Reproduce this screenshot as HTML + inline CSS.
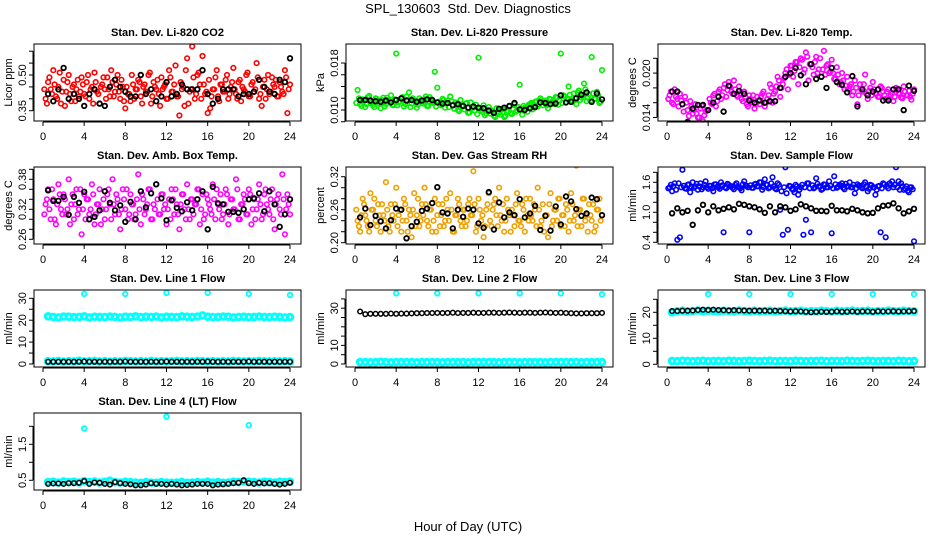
<!DOCTYPE html>
<html><head><meta charset="utf-8"><title>SPL_130603 Std. Dev. Diagnostics</title>
<style>
html,body{margin:0;padding:0;background:#fff;}
svg{display:block;font-family:"Liberation Sans",Arial,sans-serif;}
</style></head>
<body>
<svg id="chart" width="936" height="540" viewBox="0 0 936 540">
<rect x="0" y="0" width="936" height="540" fill="#fff"/>
<text x="468" y="13" text-anchor="middle" font-size="13" style="white-space:pre">SPL_130603  Std. Dev. Diagnostics</text>
<text x="468" y="531" text-anchor="middle" font-size="13">Hour of Day (UTC)</text>
</svg>
<script>
const xTicks = [0,4,8,12,16,20,24];

const co2Red = [0.40,0.47,0.44,0.52,0.41,0.45,0.38,0.48,0.43,0.50,0.39,0.46,0.44,0.41,0.49,0.42,
0.47,0.40,0.45,0.51,0.43,0.38,0.46,0.44,0.49,0.41,0.47,0.43,0.50,0.40,0.45,0.36,
0.42,0.39,0.46,0.44,0.48,0.41,0.45,0.43,0.50,0.38,0.47,0.44,0.42,0.49,0.45,0.40,
0.52,0.43,0.46,0.41,0.33,0.44,0.37,0.57,0.43,0.62,0.40,0.50,0.46,0.58,0.42,0.34,
0.36,0.44,0.49,0.41,0.46,0.43,0.48,0.40,0.45,0.53,0.42,0.47,0.39,0.44,0.50,0.41,
0.46,0.43,0.55,0.40,0.37,0.48,0.44,0.42,0.49,0.45,0.41,0.47,0.43,0.52,0.34,0.46];
const co2RedB = [0.44,0.38,0.49,0.42,0.46,0.40,0.51,0.43,0.37,0.47,0.42,0.45,0.39,0.48,0.43,0.46,
0.41,0.50,0.44,0.38,0.47,0.42,0.45,0.49,0.40,0.44,0.52,0.41,0.46,0.43,0.48,0.39,
0.45,0.42,0.50,0.40,0.44,0.47,0.38,0.46,0.43,0.51,0.41,0.45,0.48,0.37,0.44,0.46,
0.40,0.49,0.43,0.54,0.41,0.47,0.45,0.52,0.38,0.44,0.49,0.42,0.51,0.40,0.46,0.43,
0.48,0.41,0.44,0.52,0.39,0.46,0.43,0.50,0.42,0.47,0.44,0.40,0.48,0.45,0.43,0.51,
0.41,0.47,0.44,0.49,0.42,0.45,0.40,0.50,0.43,0.46,0.48,0.41,0.45,0.42,0.49,0.44];
const co2Black = [0.42,0.39,0.44,0.53,0.40,0.42,0.40,0.37,0.42,0.44,0.38,0.37,0.45,0.48,0.45,0.43,
0.41,0.41,0.50,0.42,0.44,0.39,0.41,0.47,0.41,0.42,0.46,0.44,0.44,0.44,0.52,0.42,
0.38,0.40,0.44,0.44,0.44,0.41,0.42,0.42,0.43,0.48,0.45,0.43,0.42,0.48,0.47,0.57];

const presGreen = [0.0134,0.0110,0.0118,0.0105,0.0122,0.0112,0.0108,0.0120,0.0115,0.0103,0.0121,0.0110,0.0117,0.0125,0.0108,0.0196,
0.0113,0.0119,0.0106,0.0123,0.0130,0.0111,0.0116,0.0104,0.0120,0.0112,0.0118,0.0107,0.0122,0.0114,0.0165,0.0138,
0.0110,0.0119,0.0104,0.0116,0.0123,0.0108,0.0113,0.0100,0.0117,0.0106,0.0111,0.0095,0.0113,0.0104,0.0109,0.0189,
0.0100,0.0108,0.0094,0.0105,0.0098,0.0090,0.0103,0.0095,0.0101,0.0088,0.0097,0.0106,0.0093,0.0110,0.0099,0.0143,
0.0092,0.0104,0.0097,0.0110,0.0101,0.0114,0.0106,0.0120,0.0108,0.0116,0.0103,0.0118,0.0111,0.0122,0.0109,0.0196,
0.0125,0.0113,0.0140,0.0117,0.0128,0.0110,0.0133,0.0121,0.0145,0.0115,0.0127,0.0190,0.0119,0.0131,0.0112,0.0168];
const presGreenB = [0.0112,0.0120,0.0107,0.0116,0.0110,0.0124,0.0113,0.0105,0.0119,0.0111,0.0117,0.0106,0.0121,0.0114,0.0109,0.0118,
0.0108,0.0115,0.0122,0.0110,0.0117,0.0105,0.0120,0.0113,0.0109,0.0116,0.0111,0.0123,0.0107,0.0118,0.0112,0.0106,
0.0114,0.0108,0.0117,0.0111,0.0105,0.0115,0.0102,0.0110,0.0098,0.0107,0.0101,0.0112,0.0096,0.0104,0.0099,0.0093,
0.0103,0.0097,0.0091,0.0100,0.0094,0.0099,0.0088,0.0096,0.0092,0.0102,0.0090,0.0098,0.0095,0.0101,0.0097,0.0105,
0.0100,0.0107,0.0103,0.0109,0.0112,0.0106,0.0115,0.0110,0.0117,0.0113,0.0108,0.0119,0.0114,0.0110,0.0121,0.0116,
0.0112,0.0123,0.0118,0.0126,0.0114,0.0120,0.0130,0.0117,0.0124,0.0135,0.0121,0.0116,0.0128,0.0119,0.0125,0.0114];
const presBlack = [0.0117,0.0117,0.0116,0.0115,0.0114,0.0116,0.0113,0.0117,0.0120,0.0116,0.0117,0.0114,0.0116,0.0118,0.0117,0.0113,
0.0111,0.0112,0.0108,0.0110,0.0107,0.0104,0.0106,0.0104,0.0103,0.0099,0.0095,0.0102,0.0104,0.0107,0.0112,0.0101,
0.0100,0.0103,0.0105,0.0113,0.0112,0.0110,0.0111,0.0125,0.0113,0.0114,0.0120,0.0126,0.0130,0.0114,0.0128,0.0118];

const tempMagenta = [0.0170,0.0160,0.0178,0.0165,0.0172,0.0158,0.0168,0.0150,0.0162,0.0145,0.0158,0.0140,0.0152,0.0135,0.0148,0.0132,
0.0160,0.0170,0.0155,0.0175,0.0165,0.0180,0.0168,0.0188,0.0175,0.0190,0.0170,0.0182,0.0165,0.0175,0.0158,0.0170,
0.0160,0.0152,0.0168,0.0158,0.0172,0.0155,0.0165,0.0185,0.0160,0.0175,0.0195,0.0168,0.0185,0.0200,0.0178,0.0210,
0.0195,0.0215,0.0185,0.0220,0.0200,0.0228,0.0190,0.0212,0.0198,0.0222,0.0205,0.0195,0.0230,0.0210,0.0200,0.0218,
0.0192,0.0208,0.0185,0.0200,0.0178,0.0195,0.0182,0.0170,0.0190,0.0158,0.0185,0.0175,0.0198,0.0165,0.0180,0.0188,
0.0172,0.0168,0.0182,0.0175,0.0165,0.0178,0.0170,0.0162,0.0180,0.0173,0.0167,0.0182,0.0170,0.0176,0.0164,0.0178];
const tempMagentaB = [0.0165,0.0175,0.0158,0.0168,0.0155,0.0163,0.0148,0.0160,0.0142,0.0155,0.0150,0.0145,0.0140,0.0156,0.0143,0.0150,
0.0165,0.0158,0.0172,0.0162,0.0178,0.0170,0.0185,0.0177,0.0182,0.0172,0.0178,0.0168,0.0173,0.0162,0.0168,0.0155,
0.0165,0.0170,0.0158,0.0163,0.0168,0.0175,0.0160,0.0170,0.0180,0.0172,0.0182,0.0190,0.0180,0.0193,0.0205,0.0198,
0.0210,0.0203,0.0215,0.0208,0.0218,0.0205,0.0222,0.0212,0.0208,0.0215,0.0200,0.0220,0.0205,0.0198,0.0212,0.0202,
0.0200,0.0192,0.0198,0.0188,0.0190,0.0183,0.0178,0.0185,0.0175,0.0180,0.0170,0.0178,0.0185,0.0172,0.0176,0.0170,
0.0178,0.0172,0.0168,0.0180,0.0170,0.0175,0.0165,0.0173,0.0168,0.0178,0.0172,0.0166,0.0175,0.0170,0.0168,0.0172];
const tempBlack = [0.0175,0.0175,0.0158,0.0134,0.0152,0.0157,0.0157,0.0150,0.0160,0.0168,0.0148,0.0183,0.0172,0.0176,0.0172,0.0163,
0.0160,0.0163,0.0160,0.0162,0.0162,0.0180,0.0195,0.0200,0.0207,0.0197,0.0185,0.0212,0.0192,0.0195,0.0180,0.0207,
0.0188,0.0184,0.0174,0.0196,0.0155,0.0178,0.0170,0.0175,0.0178,0.0163,0.0163,0.0178,0.0178,0.0150,0.0183,0.0176];

const ambMagenta = [0.33,0.36,0.30,0.34,0.29,0.37,0.32,0.35,0.31,0.38,0.33,0.30,0.36,0.32,0.27,0.35,
0.34,0.31,0.37,0.29,0.33,0.36,0.32,0.30,0.35,0.33,0.38,0.31,0.34,0.28,0.36,0.32,
0.30,0.35,0.33,0.31,0.39,0.29,0.34,0.32,0.36,0.30,0.33,0.37,0.31,0.35,0.32,0.29,
0.34,0.36,0.31,0.33,0.28,0.35,0.32,0.37,0.30,0.34,0.33,0.36,0.29,0.35,0.31,0.34,
0.32,0.37,0.30,0.33,0.35,0.31,0.36,0.29,0.34,0.32,0.38,0.30,0.33,0.35,0.31,0.36,
0.29,0.34,0.32,0.37,0.30,0.35,0.33,0.31,0.36,0.28,0.34,0.32,0.39,0.27,0.35,0.31];
const ambMagentaB = [0.31,0.34,0.32,0.36,0.30,0.33,0.35,0.31,0.34,0.32,0.29,0.35,0.33,0.31,0.36,0.32,
0.30,0.34,0.32,0.35,0.31,0.33,0.29,0.34,0.32,0.36,0.30,0.33,0.35,0.31,0.32,0.34,
0.36,0.31,0.33,0.30,0.34,0.32,0.35,0.31,0.33,0.36,0.30,0.32,0.34,0.31,0.35,0.33,
0.32,0.30,0.34,0.36,0.31,0.33,0.35,0.30,0.32,0.34,0.31,0.33,0.36,0.32,0.30,0.35,
0.33,0.31,0.34,0.36,0.32,0.30,0.33,0.35,0.31,0.34,0.32,0.36,0.30,0.33,0.34,0.31,
0.35,0.32,0.30,0.34,0.33,0.31,0.36,0.32,0.34,0.30,0.33,0.35,0.31,0.34,0.32,0.33];
const ambBlack = [0.358,0.337,0.337,0.345,0.309,0.345,0.333,0.355,0.300,0.305,0.318,0.356,0.333,0.318,0.328,0.295,
0.335,0.300,0.356,0.324,0.352,0.370,0.342,0.298,0.338,0.323,0.316,0.334,0.318,0.340,0.356,0.280,
0.365,0.332,0.330,0.315,0.315,0.313,0.320,0.340,0.342,0.352,0.316,0.356,0.330,0.285,0.310,0.340];

const rhOrange = [0.24,0.22,0.28,0.25,0.23,0.29,0.26,0.24,0.27,0.22,0.25,0.31,0.23,0.27,0.24,0.30,
0.25,0.22,0.28,0.24,0.26,0.21,0.29,0.25,0.23,0.27,0.30,0.24,0.26,0.22,0.28,0.25,
0.23,0.27,0.24,0.26,0.29,0.22,0.25,0.28,0.24,0.26,0.23,0.27,0.25,0.33,0.22,0.28,
0.24,0.21,0.26,0.29,0.23,0.27,0.25,0.30,0.24,0.22,0.28,0.25,0.26,0.23,0.29,0.24,
0.27,0.22,0.25,0.28,0.24,0.26,0.30,0.23,0.27,0.25,0.21,0.29,0.24,0.26,0.28,0.23,
0.25,0.27,0.22,0.29,0.24,0.34,0.26,0.23,0.28,0.25,0.27,0.24,0.22,0.26,0.28,0.25];
const rhOrangeB = [0.26,0.23,0.25,0.27,0.24,0.22,0.26,0.28,0.23,0.25,0.27,0.24,0.26,0.22,0.25,0.27,
0.23,0.26,0.24,0.27,0.22,0.25,0.26,0.23,0.28,0.24,0.25,0.27,0.23,0.26,0.24,0.22,
0.27,0.25,0.23,0.28,0.24,0.26,0.22,0.25,0.27,0.23,0.26,0.24,0.28,0.25,0.27,0.23,
0.26,0.25,0.23,0.27,0.24,0.26,0.28,0.23,0.25,0.27,0.24,0.26,0.22,0.25,0.27,0.24,
0.23,0.26,0.28,0.24,0.25,0.27,0.23,0.26,0.24,0.22,0.25,0.27,0.23,0.26,0.24,0.28,
0.25,0.23,0.26,0.24,0.27,0.25,0.23,0.26,0.28,0.24,0.22,0.25,0.27,0.23,0.26,0.24];
const rhBlack = [0.246,0.262,0.232,0.249,0.239,0.226,0.241,0.262,0.260,0.208,0.230,0.238,0.258,0.262,0.272,0.301,
0.255,0.253,0.226,0.260,0.247,0.262,0.260,0.235,0.227,0.292,0.224,0.273,0.246,0.255,0.250,0.279,
0.246,0.253,0.267,0.223,0.249,0.222,0.266,0.233,0.284,0.275,0.261,0.249,0.253,0.282,0.279,0.250];

const flowBlue = [1.50,1.42,1.58,0.45,0.50,1.85,1.48,1.55,1.40,1.60,1.52,1.45,1.58,1.50,1.62,1.47,
1.53,1.42,1.56,1.50,1.60,0.60,1.48,1.55,1.52,1.46,1.58,1.50,1.44,1.62,1.53,0.60,
1.49,1.56,1.52,1.60,1.45,1.66,1.55,1.50,1.70,1.48,1.58,1.05,0.55,1.90,0.65,1.52,
1.45,1.55,1.35,1.50,0.55,0.85,1.58,0.60,1.48,1.68,1.52,1.45,1.56,1.50,1.62,0.58,
1.72,1.49,1.55,1.58,1.46,1.52,1.60,1.50,1.38,1.56,1.53,1.48,1.60,1.42,1.55,1.50,
1.35,1.52,0.60,1.58,0.50,1.48,1.55,1.50,1.90,1.62,1.58,1.45,1.52,1.40,1.50,0.42];
const flowBlueB = [1.48,1.55,1.52,1.45,1.58,1.50,1.53,1.47,1.56,1.51,1.49,1.57,1.52,1.46,1.55,1.50,
1.53,1.48,1.56,1.51,1.47,1.54,1.50,1.57,1.52,1.49,1.55,1.51,1.48,1.56,1.53,1.50,
1.54,1.49,1.57,1.52,1.60,1.50,1.55,1.48,1.58,1.52,1.46,1.55,1.42,1.50,1.38,1.53,
1.47,1.40,1.52,1.45,1.55,1.50,1.58,1.48,1.54,1.50,1.57,1.52,1.47,1.55,1.50,1.53,
1.48,1.56,1.51,1.54,1.49,1.57,1.52,1.50,1.55,1.48,1.53,1.50,1.56,1.51,1.47,1.54,
1.50,1.45,1.53,1.48,1.56,1.52,1.58,1.62,1.55,1.50,1.45,1.52,1.48,1.43,1.50,1.46];
const flowBlack = [0.98,1.08,1.00,1.03,0.75,1.04,1.15,1.00,1.12,1.04,1.07,1.10,1.06,1.17,1.15,1.12,
1.10,1.06,0.99,1.12,1.00,1.12,1.10,1.03,1.06,1.16,1.12,1.08,1.03,1.03,1.02,1.13,
1.04,1.04,1.02,1.07,1.04,1.00,0.98,0.99,1.08,1.13,1.14,1.18,1.08,0.98,1.02,1.07];

const outlierHours = [4,8,12,16,20,24];
const line1CyanHigh = [21.8,21.5,21.3,21.7,21.6,21.4,21.5,21.8,21.3,21.6,21.5,21.4,21.7,21.5,21.3,21.6,
21.5,21.8,21.4,21.6,21.5,21.7,21.3,21.6,21.5,21.4,21.8,21.6,21.5,21.7,22.2,21.6,
21.4,21.5,21.7,21.6,21.3,21.5,21.6,21.4,21.5,21.7,21.5,21.4,21.6,21.5,21.3,21.4];
const line1CyanLow = [1.3,1.2,1.4,1.1,1.3,1.2,1.5,1.2,1.3,1.4,1.2,1.3,1.1,1.3,1.2,1.4,
1.3,1.2,1.3,1.1,1.4,1.2,1.3,1.2,1.3,1.4,1.2,1.3,1.2,1.4,1.3,1.2,
1.3,1.1,1.3,1.2,1.4,1.3,1.2,1.3,1.2,1.4,1.3,1.2,1.3,1.2,1.3,1.2];
const line1Black = [1.0,1.0,1.0,1.0,1.0,1.0,1.0,1.1,1.0,1.0,1.0,1.0,1.0,1.0,1.0,1.1,
1.0,1.0,1.0,1.0,1.0,1.0,1.0,1.1,1.0,1.0,1.0,1.0,1.0,1.0,1.0,1.1,
1.0,1.0,1.0,1.0,1.0,1.0,1.0,1.1,1.0,1.0,1.0,1.0,1.0,1.0,1.0,1.0];
const line1Outliers = [32,32,32.5,32.5,32,31.5];

const line2CyanLow = [1.0,1.1,0.9,1.0,1.2,1.0,0.9,1.1,1.0,1.0,1.1,0.9,1.0,1.0,1.1,1.0,
0.9,1.0,1.1,1.0,1.0,0.9,1.1,1.0,1.0,1.1,1.0,0.9,1.0,1.0,1.1,0.9,
1.0,1.1,1.0,1.0,0.9,1.0,1.1,1.0,1.0,1.0,1.1,0.9,1.0,1.0,1.1,1.0];
const line2Black = [28.2,26.8,27.0,27.0,27.0,27.0,27.1,27.0,27.1,27.1,27.2,27.3,27.3,27.4,27.4,27.5,
27.4,27.5,27.6,27.4,27.5,27.5,27.6,27.5,27.5,27.6,27.6,27.5,27.6,27.7,27.6,27.5,
27.6,27.6,27.5,27.6,27.7,27.6,27.5,27.6,27.4,27.3,27.2,27.2,27.3,27.3,27.3,27.5];
const line2Outliers = [38,38,38,38,38,37.5];

const line3CyanHigh = [20.0,20.4,20.6,20.3,20.5,20.7,20.4,20.6,20.5,20.3,20.6,20.5,20.4,20.7,20.5,20.3,
20.6,20.4,20.5,20.6,20.3,20.5,20.7,20.4,20.5,20.6,20.3,20.5,20.4,20.6,20.5,20.3,
20.6,20.4,20.5,20.7,20.4,20.5,20.6,20.3,20.5,20.4,20.6,20.5,20.4,20.6,20.5,20.4];
const line3CyanLow = [1.3,1.2,1.4,1.3,1.2,1.3,1.4,1.2,1.3,1.3,1.2,1.4,1.3,1.2,1.3,1.4,
1.3,1.2,1.3,1.4,1.2,1.3,1.3,1.2,1.4,1.3,1.2,1.3,1.3,1.4,1.2,1.3,
1.3,1.2,1.4,1.3,1.2,1.3,1.4,1.3,1.2,1.3,1.3,1.2,1.4,1.3,1.2,1.3];
const line3Black = [20.5,20.5,20.6,20.6,20.7,20.9,21.0,20.9,21.0,20.9,20.8,20.7,20.8,20.7,20.7,20.6,
20.6,20.6,20.6,20.5,20.6,20.5,20.4,20.3,20.4,20.3,20.2,20.0,20.1,20.2,20.1,20.2,
20.3,20.2,20.2,20.3,20.2,20.3,20.3,20.2,20.4,20.3,20.3,20.4,20.3,20.3,20.4,20.5];
const line3Outliers = [27,27,27,27,27,27];

const line4Cyan = [0.45,0.46,0.44,0.47,0.45,0.46,0.44,0.48,0.45,0.47,0.44,0.46,0.49,0.45,0.44,0.46,
0.45,0.44,0.43,0.45,0.44,0.43,0.45,0.44,0.43,0.44,0.45,0.43,0.44,0.45,0.44,0.46,
0.44,0.45,0.43,0.44,0.46,0.45,0.47,0.46,0.45,0.44,0.46,0.45,0.44,0.46,0.45,0.46];
const line4Black = [0.40,0.41,0.41,0.40,0.42,0.42,0.43,0.48,0.40,0.44,0.43,0.40,0.38,0.45,0.42,0.40,
0.39,0.36,0.36,0.38,0.42,0.40,0.40,0.38,0.40,0.38,0.36,0.37,0.38,0.40,0.40,0.40,
0.36,0.38,0.39,0.40,0.42,0.43,0.50,0.42,0.40,0.43,0.41,0.42,0.40,0.38,0.40,0.43];
const line4Outliers = [1.94,2.27,2.03];
const line4OutlierHours = [4,12,20];

const svg = document.getElementById('chart');
const NS = 'http://www.w3.org/2000/svg';
function mk(tag, attrs, parent){
  const e = document.createElementNS(NS, tag);
  for (const k in attrs) e.setAttribute(k, attrs[k]);
  parent.appendChild(e);
  return e;
}
function hoursOf(vals, off){ return vals.map((_, i) => (i + 1 - (off || 0)) * 24 / vals.length); }

function panel(cfg){
  const L = 34 + cfg.col * 312, T = 44 + cfg.row * 123, W = 267, H = 77;
  const xs = h => L + 9 + h * (247 / 24);
  const ys = v => T + cfg.y0rel - (v - cfg.v0) / cfg.dv * cfg.dpx;
  const g = mk('g', {}, svg);
  
  
  const t = mk('text', {x: L + W / 2, y: T - 8, 'text-anchor': 'middle', 'font-size': 11, 'font-weight': 'bold'}, g);
  t.textContent = cfg.title;
  
  
  const clip = 'clip-' + cfg.name;
  const cp = mk('clipPath', {id: clip}, g);
  mk('rect', {x: L, y: T, width: W, height: H}, cp);
  const pg = mk('g', {'clip-path': 'url(#' + clip + ')'}, g);
  cfg.series.forEach(s => {
    const hrs = s.hours || hoursOf(s.vals, s.off);
    const sg = mk('g', {fill: 'none', stroke: s.color, 'stroke-width': s.sw || 1.6}, pg);
    
    
    s.vals.forEach((v, i) => {
      const c = mk('circle', {cx: xs(hrs[i]).toFixed(1), cy: ys(v).toFixed(1), r: s.r || 2.3}, sg);
      
      
    });
  });
  const box = mk('rect', {x: L, y: T, width: W, height: H, fill: 'none', stroke: '#000', 'stroke-width': 1}, g);
  
  
  const xa = mk('g', {stroke: '#000', 'stroke-width': 1}, g);
  
  
  mk('line', {x1: xs(0), x2: xs(24), y1: T + H + 1, y2: T + H + 1}, xa);
  xTicks.forEach(h => {
    mk('line', {x1: xs(h), x2: xs(h), y1: T + H + 1, y2: T + H + 5}, xa);
    const tl = mk('text', {x: xs(h), y: T + H + 19, 'text-anchor': 'middle', 'font-size': 11, stroke: 'none', fill: '#000'}, xa);
    tl.textContent = h;
    
    
  });
  const ya = mk('g', {stroke: '#000', 'stroke-width': 1}, g);
  
  
  const yt = cfg.ticks.map(ys);
  mk('line', {x1: L - 1, x2: L - 1, y1: Math.min(...yt), y2: Math.max(...yt)}, ya);
  cfg.ticks.forEach(v => {
    mk('line', {x1: L - 5, x2: L - 1, y1: ys(v), y2: ys(v)}, ya);
  });
  cfg.labels.forEach(lab => {
    const y = ys(parseFloat(lab));
    const tl = mk('text', {x: 0, y: 0, transform: 'translate(' + (L - 8) + ',' + y + ') rotate(-90)', 'text-anchor': 'middle', 'font-size': 11, stroke: 'none', fill: '#000'}, ya);
    tl.textContent = lab;
    
    
  });
  const yl = mk('text', {x: 0, y: 0, transform: 'translate(' + (L - 22) + ',' + (T + H / 2) + ') rotate(-90)', 'text-anchor': 'middle', 'font-size': 11}, g);
  yl.textContent = cfg.ylab;
  
  
}

panel({name:'co2', col:0,row:0,title:'Stan. Dev. Li-820 CO2', ylab:'Licor ppm', v0:0.35, y0rel:66.7, dv:0.05, dpx:11.9,
  ticks:[0.35,0.40,0.45,0.50,0.55,0.60], labels:['0.35','0.50'],
  series:[{vals:co2Red,color:'#ff0000',label:'red'},{vals:co2RedB,off:0.5,color:'#ff0000',label:'red-b'},{vals:co2Black,color:'#000',label:'black',sw:1.8}]});
panel({name:'pressure', col:1,row:0,title:'Stan. Dev. Li-820 Pressure', ylab:'kPa', v0:0.010, y0rel:66, dv:0.002, dpx:11.75,
  ticks:[0.008,0.010,0.012,0.014,0.016,0.018], labels:['0.010','0.018'],
  series:[{vals:presGreen,color:'#00ee00',label:'green'},{vals:presGreenB,off:0.5,color:'#00ee00',label:'green-b'},{vals:presBlack,color:'#000',label:'black',sw:1.8}]});
panel({name:'temp', col:2,row:0,title:'Stan. Dev. Li-820 Temp.', ylab:'degrees C', v0:0.014, y0rel:73.5, dv:0.002, dpx:14.8,
  ticks:[0.014,0.016,0.018,0.020,0.022], labels:['0.014','0.020'],
  series:[{vals:tempMagenta,color:'#ff00ff',label:'magenta'},{vals:tempMagentaB,off:0.5,color:'#ff00ff',label:'magenta-b'},{vals:tempBlack,color:'#000',label:'black',sw:1.8}]});
panel({name:'ambbox', col:0,row:1,title:'Stan. Dev. Amb. Box Temp.', ylab:'degrees C', v0:0.26, y0rel:72.3, dv:0.02, dpx:10,
  ticks:[0.26,0.28,0.30,0.32,0.34,0.36,0.38,0.40], labels:['0.26','0.32','0.38'],
  series:[{vals:ambMagenta,color:'#ff00ff',label:'magenta'},{vals:ambMagentaB,off:0.5,color:'#ff00ff',label:'magenta-b'},{vals:ambBlack,color:'#000',label:'black',sw:1.8}]});
panel({name:'rh', col:1,row:1,title:'Stan. Dev. Gas Stream RH', ylab:'percent', v0:0.20, y0rel:75.7, dv:0.02, dpx:11,
  ticks:[0.20,0.22,0.24,0.26,0.28,0.30,0.32], labels:['0.20','0.26','0.32'],
  series:[{vals:rhOrange,color:'#f0a000',label:'orange'},{vals:rhOrangeB,off:0.5,color:'#f0a000',label:'orange-b'},{vals:rhBlack,color:'#000',label:'black',sw:1.8}]});
panel({name:'sampleflow', col:2,row:1,title:'Stan. Dev. Sample Flow', ylab:'ml/min', v0:0.4, y0rel:75.3, dv:0.2, dpx:10,
  ticks:[0.4,0.6,0.8,1.0,1.2,1.4,1.6,1.8], labels:['0.4','1.0','1.6'],
  series:[{vals:flowBlue,color:'#0000ff',label:'blue'},{vals:flowBlueB,off:0.5,color:'#0000ff',label:'blue-b'},{vals:flowBlack,color:'#000',label:'black',sw:1.8}]});
panel({name:'line1', col:0,row:2,title:'Stan. Dev. Line 1 Flow', ylab:'ml/min', v0:0, y0rel:74, dv:5, dpx:10.95,
  ticks:[0,5,10,15,20,25,30], labels:['0','10','20','30'],
  series:[{vals:line1CyanHigh,color:'#00ffff',label:'cyan-high',r:2.8,sw:3},{vals:line1CyanLow,color:'#00ffff',label:'cyan-low',r:2.8,sw:3},
    {vals:line1Outliers,hours:outlierHours,color:'#00ffff',label:'cyan-outliers',sw:1.8},{vals:line1Black,color:'#000',label:'black',sw:1.5}]});
panel({name:'line2', col:1,row:2,title:'Stan. Dev. Line 2 Flow', ylab:'ml/min', v0:0, y0rel:74, dv:10, dpx:18.6,
  ticks:[0,5,10,15,20,25,30,35], labels:['0','10','30'],
  series:[{vals:line2CyanLow,color:'#00ffff',label:'cyan-low',r:2.8,sw:3},
    {vals:line2Outliers,hours:outlierHours,color:'#00ffff',label:'cyan-outliers',sw:1.8},{vals:line2Black,color:'#000',label:'black',sw:1.5}]});
panel({name:'line3', col:2,row:2,title:'Stan. Dev. Line 3 Flow', ylab:'ml/min', v0:0, y0rel:74.3, dv:10, dpx:26,
  ticks:[0,5,10,15,20,25], labels:['0','10','20'],
  series:[{vals:line3CyanHigh,color:'#00ffff',label:'cyan-high',r:2.8,sw:3},{vals:line3CyanLow,color:'#00ffff',label:'cyan-low',r:2.8,sw:3},
    {vals:line3Outliers,hours:outlierHours,color:'#00ffff',label:'cyan-outliers',sw:1.8},{vals:line3Black,color:'#000',label:'black',sw:1.5}]});
panel({name:'line4', col:0,row:3,title:'Stan. Dev. Line 4 (LT) Flow', ylab:'ml/min', v0:0.5, y0rel:67.3, dv:0.5, dpx:18,
  ticks:[0.5,1.0,1.5,2.0], labels:['0.5','1.5'],
  series:[{vals:line4Cyan,color:'#00ffff',label:'cyan',r:2.8,sw:3},
    {vals:line4Outliers,hours:line4OutlierHours,color:'#00ffff',label:'cyan-outliers',sw:1.8},{vals:line4Black,color:'#000',label:'black',sw:1.5}]});
</script>
</body></html>
